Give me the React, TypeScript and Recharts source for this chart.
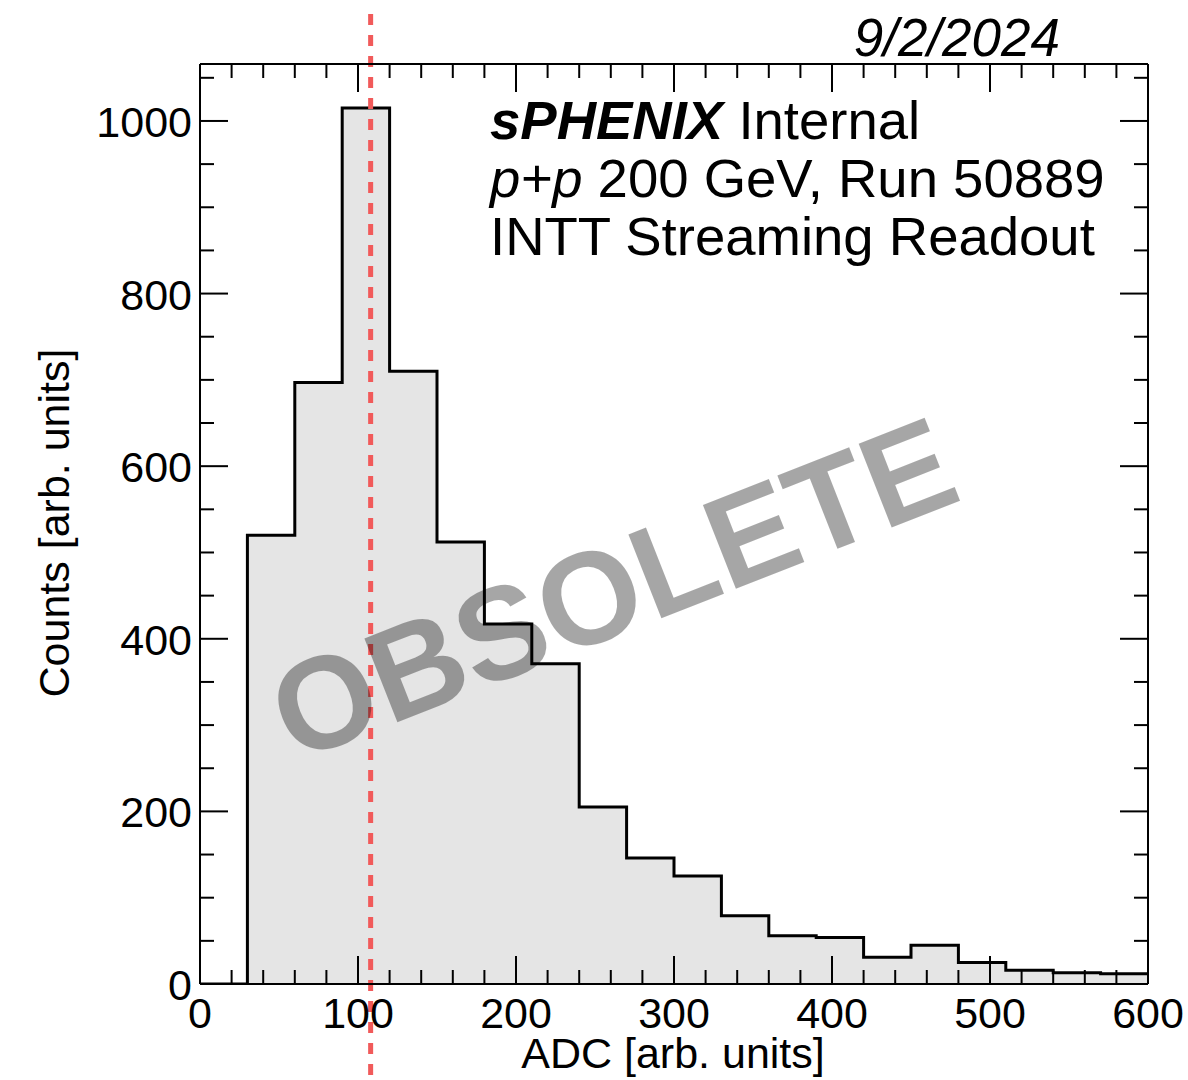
import React from 'react';
import { ComposedChart, Area, XAxis, YAxis, ReferenceLine, ReferenceDot, Customized } from 'recharts';

// Histogram bins (lower edges) and counts
const binEdges = [0, 30, 60, 90, 120, 150, 180, 210, 240, 270, 300, 330, 360, 390, 420, 450, 480, 510, 540, 570];
const counts = [0, 520, 697, 1015, 710, 512, 417, 371, 205, 146, 125, 79, 56, 54, 31, 45, 25, 16, 13, 12];
const xMax = 600;
const yMax = 1066;

const xTicks = [0, 20, 40, 60, 80, 100, 120, 140, 160, 180, 200, 220, 240, 260, 280, 300, 320, 340, 360, 380, 400, 420, 440, 460, 480, 500, 520, 540, 560, 580, 600];
const xLabelTicks = [0, 100, 200, 300, 400, 500, 600];
const yTicks = [0, 50, 100, 150, 200, 250, 300, 350, 400, 450, 500, 550, 600, 650, 700, 750, 800, 850, 900, 950, 1000, 1050];
const yLabelTicks = [0, 200, 400, 600, 800, 1000];
const cutValue = 108;
// watermark anchor (data coordinates)
const watermarkAt = { x: 261, y: 460 };

const FONT = '"Liberation Sans", Arial, Helvetica, sans-serif';

const data = [
  ...binEdges.map((e, i) => ({ x: e, y: counts[i] })),
  { x: xMax, y: counts[counts.length - 1] },
];

const MAJOR = 28;
const MINOR = 14;

const BottomTick = (p: any) => {
  const v = p.payload.value;
  const major = xLabelTicks.includes(v);
  return (
    <g>
      <line x1={p.x} x2={p.x} y1={p.y} y2={p.y - (major ? MAJOR : MINOR)} stroke="#000" strokeWidth={2} />
      {major && (
        <text x={p.x} y={p.y + 44} textAnchor="middle" fontSize={43} fontFamily={FONT} fill="#000">
          {v}
        </text>
      )}
    </g>
  );
};

const TopTick = (p: any) => {
  const v = p.payload.value;
  const major = xLabelTicks.includes(v);
  return <line x1={p.x} x2={p.x} y1={p.y} y2={p.y + (major ? MAJOR : MINOR)} stroke="#000" strokeWidth={2} />;
};

const LeftTick = (p: any) => {
  const v = p.payload.value;
  const major = yLabelTicks.includes(v);
  return (
    <g>
      <line x1={p.x} x2={p.x + (major ? MAJOR : MINOR)} y1={p.y} y2={p.y} stroke="#000" strokeWidth={2} />
      {major && (
        <text x={p.x - 8} y={p.y + 16} textAnchor="end" fontSize={43} fontFamily={FONT} fill="#000">
          {v}
        </text>
      )}
    </g>
  );
};

const RightTick = (p: any) => {
  const v = p.payload.value;
  const major = yLabelTicks.includes(v);
  return <line x1={p.x} x2={p.x - (major ? MAJOR : MINOR)} y1={p.y} y2={p.y} stroke="#000" strokeWidth={2} />;
};

const Texts = () => (
  <g fontFamily={FONT} fill="#000">
    <text x={1060} y={56} textAnchor="end" fontSize={53} fontStyle="italic">
      9/2/2024
    </text>
    <text x={490} y={139} fontSize={54.5}>
      <tspan fontWeight="bold" fontStyle="italic">sPHENIX</tspan>
      <tspan> Internal</tspan>
    </text>
    <text x={490} y={197} fontSize={54.5}>
      <tspan fontStyle="italic">p+p</tspan>
      <tspan> 200 GeV, Run 50889</tspan>
    </text>
    <text x={490} y={255} fontSize={54.5}>
      INTT Streaming Readout
    </text>
    <text x={673} y={1068} textAnchor="middle" fontSize={43}>
      ADC [arb. units]
    </text>
    <text x={69} y={523} textAnchor="middle" fontSize={43} transform="rotate(-90, 69, 523)">
      Counts [arb. units]
    </text>
  </g>
);

const Watermark = (p: any) => (
  <text
    x={p.cx}
    y={p.cy + 47}
    textAnchor="middle"
    fontSize={131}
    fontWeight="bold"
    fontFamily={FONT}
    fill="#000"
    fillOpacity={0.35}
    transform={`rotate(-21.5, ${p.cx}, ${p.cy})`}
  >
    OBSOLETE
  </text>
);

const CutLine = (p: any) => {
  const top = Math.min(p.y1, p.y2) - 50;
  const bottom = Math.max(p.y1, p.y2) + 92;
  return <line x1={p.x1} x2={p.x2} y1={top} y2={bottom} stroke="#f15a5a" strokeWidth={5} strokeDasharray="11 10" />;
};

export default function App() {
  return (
    <div style={{ position: 'absolute', left: 0, top: 0, width: 1188, height: 1080, background: '#fff' }}>
      <ComposedChart
        width={1188}
        height={1080}
        data={data}
        margin={{ top: 63, right: 39, bottom: 95, left: 199 }}
      >
        <XAxis
          xAxisId="b"
          type="number"
          dataKey="x"
          domain={[0, xMax]}
          allowDataOverflow
          ticks={xTicks}
          interval={0}
          height={1}
          tickSize={0}
          tickMargin={0}
          tickLine={false}
          axisLine={{ stroke: '#000', strokeWidth: 2 }}
          tick={BottomTick}
        />
        <XAxis
          xAxisId="t"
          orientation="top"
          type="number"
          dataKey="x"
          domain={[0, xMax]}
          allowDataOverflow
          ticks={xTicks}
          interval={0}
          height={1}
          tickSize={0}
          tickMargin={0}
          tickLine={false}
          axisLine={{ stroke: '#000', strokeWidth: 2 }}
          tick={TopTick}
        />
        <YAxis
          yAxisId="l"
          type="number"
          domain={[0, yMax]}
          allowDataOverflow
          ticks={yTicks}
          interval={0}
          width={1}
          tickSize={0}
          tickMargin={0}
          tickLine={false}
          axisLine={{ stroke: '#000', strokeWidth: 2 }}
          tick={LeftTick}
        />
        <YAxis
          yAxisId="r"
          orientation="right"
          type="number"
          domain={[0, yMax]}
          allowDataOverflow
          ticks={yTicks}
          interval={0}
          width={1}
          tickSize={0}
          tickMargin={0}
          tickLine={false}
          axisLine={{ stroke: '#000', strokeWidth: 2 }}
          tick={RightTick}
        />
        <Area
          xAxisId="b"
          yAxisId="l"
          type="stepAfter"
          dataKey="y"
          stroke="#000"
          strokeWidth={3}
          fill="#e5e5e5"
          fillOpacity={1}
          baseValue={0}
          isAnimationActive={false}
          dot={false}
          activeDot={false}
        />
        <Customized component={Texts} />
        <ReferenceDot
          xAxisId="b"
          yAxisId="l"
          x={watermarkAt.x}
          y={watermarkAt.y}
          r={0}
          ifOverflow="visible"
          shape={Watermark}
        />
        <ReferenceLine xAxisId="b" yAxisId="l" x={cutValue} shape={CutLine} />
      </ComposedChart>
    </div>
  );
}
